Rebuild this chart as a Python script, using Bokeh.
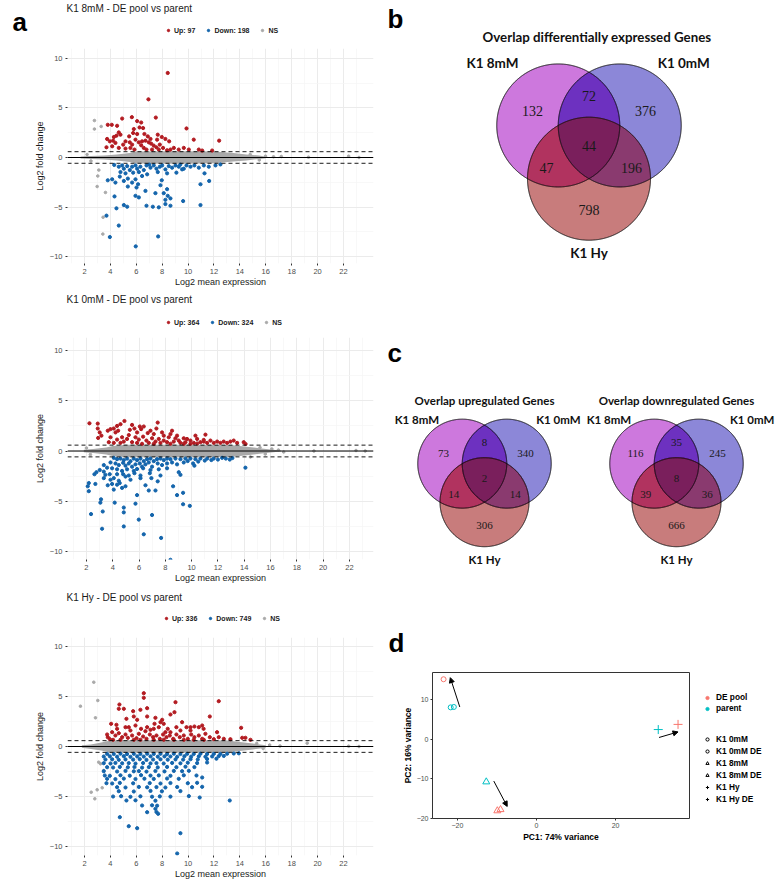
import numpy as np
from bokeh.plotting import figure
from bokeh.models import (Range1d, Label, Legend, LegendItem, Arrow, NormalHead,
                          FixedTicker, ColumnDataSource, Span)
from bokeh.layouts import row, column
from bokeh.embed import file_html
from bokeh.resources import INLINE
from bokeh.core.properties import value

SANS = "Liberation Sans"
SERIF = "Liberation Serif"
VFONT = "Lato"
UP_COLOR, DOWN_COLOR, NS_COLOR = "#B31B21", "#1465AC", "#A9A9A9"

# ---------------- MA plot data (log2 mean expression, log2 fold change) -------------
fc_threshold = 1.5
MA_XTICKS = [2, 4, 6, 8, 10, 12, 14, 16, 18, 20, 22]
MA_XMINOR = [1, 3, 5, 7, 9, 11, 13, 15, 17, 19, 21, 23]
MA_YTICKS = [-10, -5, 0, 5, 10]
MA_YMINOR = [-7.5, -2.5, 2.5, 7.5]

ma1_title = "K1 8mM - DE pool vs parent"
ma1_counts = [97, 198]
ma1_up = [(8.43, 8.53), (6.94, 5.87), (4.91, 3.93), (5.66, 4.07), (6.07, 3.67), (6.38, 3.53), (7.51, 4.03),
          (3.8, 3.3), (4.11, 3.3), (4.52, 3.2), (5.81, 2.87), (6.25, 3.03), (6.53, 2.97), (9.88, 2.93),
          (4.65, 2.53), (4.78, 2.3), (4.47, 2.2), (5.76, 2.47), (6.07, 2.37), (6.89, 2.13), (7.66, 2.3),
          (7.97, 2.07), (8.25, 1.87), (8.54, 1.63), (10.44, 1.8), (12.4, 1.7), (3.75, 1.87), (3.96, 1.63),
          (4.21, 1.7), (4.39, 1.47), (4.99, 1.3), (5.17, 1.63), (5.5, 1.53), (5.68, 1.3), (5.94, 1.8),
          (6.2, 1.53), (6.45, 1.63), (6.71, 1.7), (6.97, 1.53), (7.15, 1.4), (7.35, 1.2), (7.56, 1.03),
          (7.82, 1.3), (8.07, 0.97), (8.64, 0.8), (8.9, 0.97), (9.28, 0.8), (9.67, 0.97), (10.06, 0.8),
          (10.83, 0.8), (11.09, 0.7), (11.86, 0.7), (3.7, 1.03), (4.14, 1.13), (4.65, 0.97), (5.17, 0.9),
          (5.55, 0.97), (5.86, 0.8), (6.58, 0.97), (6.79, 0.8), (7.22, 0.8), (7.74, 0.8), (8.38, 0.73),
          (7.1, 1.87), (6.63, 2.37), (5.45, 2.13), (7.61, 1.8), (4.27, 2.07), (6.38, 1.23)]
ma1_down = [(4.65, -0.93), (4.91, -0.8), (5.04, -1.13), (5.3, -0.87), (5.5, -1.27), (5.68, -0.93), (5.94, -0.8),
            (6.07, -1.13), (6.32, -0.93), (6.58, -1.27), (6.79, -0.8), (7.1, -1.03), (7.35, -0.8), (7.56, -1.13),
            (7.82, -0.93), (8.0, -0.8), (8.25, -1.2), (8.51, -0.87), (8.77, -1.03), (9.03, -0.8), (9.28, -0.93),
            (9.54, -1.2), (9.88, -0.8), (10.19, -0.93), (10.49, -0.8), (10.83, -1.03), (11.22, -0.8), (11.6, -0.93),
            (12.12, -0.8), (4.78, -1.47), (5.17, -1.6), (5.76, -1.53), (6.2, -1.47), (6.84, -1.7), (7.66, -1.47),
            (8.38, -1.6), (9.1, -1.53), (9.67, -1.13), (11.27, -1.6), (4.73, -1.93), (5.35, -2.13), (5.94, -2.2),
            (6.45, -1.87), (5.04, -2.37), (4.14, -2.2), (3.8, -2.3), (4.39, -2.53), (5.68, -2.53), (6.14, -2.7),
            (7.97, -2.3), (7.87, -2.8), (8.38, -3.2), (5.35, -2.93), (6.02, -3.03), (6.71, -3.37), (7.48, -3.6),
            (8.12, -3.6), (8.43, -3.87), (8.64, -4.13), (10.96, -2.7), (11.63, -2.37), (4.32, -3.93), (6.2, -4.03),
            (5.94, -3.87), (8.25, -4.27), (8.25, -4.7), (8.64, -4.87), (9.62, -4.4), (10.96, -4.8), (4.47, -5.13),
            (5.04, -4.8), (5.3, -4.97), (6.79, -4.87), (7.28, -4.97), (7.74, -5.03), (3.7, -5.87), (4.65, -6.87),
            (3.96, -8.03), (7.69, -7.97), (5.96, -8.97), (4.3, -0.75), (12.5, -0.7), (7.0, -0.72), (9.4, -0.72)]
ma1_ns = [(2.77, 3.73), (2.77, 2.87), (3.29, 3.13), (3.11, -1.27), (3.03, -1.87), (2.98, -2.93), (3.62, -3.53),
          (3.44, -6.03), (3.42, -7.73), (15.98, 0.13), (16.6, 0.07), (17.2, 0.1), (19.3, 0.03), (22.4, 0.13),
          (23.2, 0.0), (15.5, -0.25), (14.8, 0.3), (2.2, 0.3), (2.5, -0.35)]
ma1_band_x = [1.7, 2.5, 3.5, 4.5, 5.5, 6.0, 8.0, 10.0, 12.0, 13.5, 14.5, 15.5, 16.0]
ma1_band_hi = [0.1, 0.15, 0.2, 0.3, 0.45, 0.6, 0.62, 0.62, 0.6, 0.45, 0.3, 0.2, 0.08]
ma1_band_lo = [-0.1, -0.15, -0.2, -0.3, -0.45, -0.6, -0.62, -0.62, -0.58, -0.4, -0.3, -0.15, -0.08]

ma2_title = "K1 0mM - DE pool vs parent"
ma2_counts = [364, 324]
ma2_up = [(2.23, 2.76), (2.86, 2.73), (2.86, 2.24), (3.01, 1.85), (3.14, 1.53), (2.89, 1.3), (3.62, 2.02),
          (3.83, 2.18), (4.08, 2.24), (4.21, 1.85), (4.41, 2.02), (4.33, 2.5), (4.89, 2.99), (4.59, 2.67),
          (5.47, 2.6), (5.3, 2.11), (5.65, 2.24), (6.06, 2.44), (6.16, 2.18), (6.36, 2.44), (7.42, 2.83),
          (7.32, 2.24), (6.87, 2.02), (6.66, 1.79), (7.75, 1.85), (8.51, 2.02), (8.39, 1.69), (8.26, 1.37),
          (8.89, 1.53), (9.4, 1.27), (9.65, 1.2), (9.91, 1.04), (10.42, 1.2), (11.05, 1.63), (11.43, 1.04),
          (11.94, 0.94), (12.44, 0.94), (13.2, 1.04), (13.46, 0.81), (4.71, 1.37), (5.09, 1.2), (5.22, 1.59),
          (5.73, 1.37), (5.98, 1.14), (6.31, 1.43), (6.56, 1.04), (6.99, 1.27), (7.25, 0.94), (7.5, 1.2),
          (7.88, 1.04), (8.13, 0.88), (8.64, 0.94), (9.02, 1.04), (9.15, 0.81), (9.53, 0.88), (10.16, 0.81),
          (10.67, 0.88), (10.92, 0.94), (11.18, 0.81), (11.68, 0.81), (12.19, 0.81), (12.7, 0.81), (12.95, 0.94),
          (3.83, 1.37), (4.33, 1.14), (4.84, 0.94), (5.47, 0.88), (5.85, 0.81), (6.74, 0.81), (7.63, 0.81),
          (8.39, 0.72), (9.4, 0.72), (9.91, 0.72), (10.42, 0.75), (3.7, 0.88), (4.08, 0.81), (4.59, 0.81),
          (7.12, 1.69), (7.88, 1.53), (8.77, 1.27), (5.85, 1.85), (10.29, 1.53), (10.92, 1.1), (7.12, 0.72),
          (6.23, 0.72), (13.96, 0.88), (14.1, 0.7)]
ma2_down = [(4.08, -0.68), (4.33, -0.81), (4.59, -0.75), (4.84, -0.91), (5.09, -0.75), (5.35, -1.01), (5.6, -0.75),
            (5.85, -0.91), (6.11, -0.75), (6.36, -1.01), (6.61, -0.81), (6.87, -0.75), (7.12, -1.01), (7.37, -0.81),
            (7.63, -0.75), (7.88, -0.91), (8.13, -0.75), (8.39, -0.81), (8.77, -0.75), (9.15, -0.81), (9.53, -0.75),
            (9.91, -0.75), (10.29, -0.81), (10.67, -0.75), (11.18, -0.75), (11.68, -0.75), (12.32, -0.68),
            (3.83, -1.14), (4.21, -1.24), (4.46, -1.4), (4.79, -1.17), (4.97, -1.46), (5.22, -1.24), (5.47, -1.56),
            (5.73, -1.33), (6.06, -1.24), (6.23, -1.56), (6.49, -1.33), (6.74, -1.14), (6.99, -1.56), (7.42, -1.24),
            (7.75, -1.4), (8.13, -1.24), (8.51, -1.14), (8.89, -1.33), (9.4, -1.14), (10.11, -1.24), (10.21, -1.46),
            (3.32, -1.4), (3.57, -1.66), (3.95, -1.72), (4.33, -1.82), (4.71, -1.98), (5.09, -1.82), (5.6, -1.98),
            (5.85, -1.79), (6.31, -1.72), (6.87, -1.89), (7.5, -1.82), (8.13, -1.72), (9.02, -2.11), (9.15, -2.37),
            (3.32, -2.05), (3.01, -1.89), (3.44, -2.37), (3.77, -2.31), (4.33, -2.31), (4.79, -2.31), (5.22, -2.44),
            (5.65, -2.21), (6.11, -2.44), (6.82, -2.21), (7.63, -2.44), (2.61, -2.31), (2.76, -2.11), (3.32, -2.7),
            (3.83, -2.86), (4.08, -2.7), (4.46, -2.96), (4.97, -2.54), (5.35, -2.86), (6.11, -2.7), (6.94, -2.7),
            (7.42, -3.02), (8.59, -3.51), (9.35, -4.16), (8.89, -4.39), (3.62, -3.41), (3.95, -3.28), (4.33, -3.35),
            (4.53, -3.19), (4.97, -3.51), (4.08, -3.84), (4.71, -3.67), (6.49, -3.41), (6.74, -3.93), (7.25, -3.93),
            (5.85, -4.39), (2.18, -3.19), (2.1, -3.51), (2.18, -4.0), (2.68, -3.28), (3.11, -4.81), (3.06, -5.14),
            (4.15, -5.14), (5.73, -5.24), (9.35, -5.3), (9.86, -5.46), (2.35, -6.28), (3.24, -6.02), (4.84, -5.63),
            (4.84, -6.11), (6.99, -6.37), (5.98, -6.83), (3.19, -7.74), (4.84, -7.51), (6.36, -8.29), (7.68, -8.65),
            (8.39, -10.83), (14.09, -1.66), (9.7, -1.0), (10.5, -1.05), (11.0, -0.95), (11.5, -0.9), (12.0, -0.85),
            (12.6, -0.75), (13.1, -0.7), (12.9, -0.85)]
ma2_ns = [(14.47, -0.59), (15.2, 0.35), (15.6, -0.3), (16.1, 0.2), (16.6, 0.1), (17.0, -0.1), (19.3, 0.0),
          (22.5, 0.05), (23.2, 0.0), (2.0, 0.3), (2.3, -0.35)]
ma2_band_x = [1.8, 2.5, 3.5, 4.0, 5.0, 8.0, 11.0, 13.0, 14.0, 15.0, 16.0, 16.8]
ma2_band_hi = [0.12, 0.2, 0.35, 0.5, 0.62, 0.62, 0.62, 0.6, 0.45, 0.3, 0.15, 0.05]
ma2_band_lo = [-0.12, -0.2, -0.35, -0.5, -0.62, -0.62, -0.62, -0.6, -0.45, -0.3, -0.15, -0.05]

ma3_title = "K1 Hy - DE pool vs parent"
ma3_counts = [336, 749]
ma3_up = [(6.58, 5.33), (6.58, 4.87), (9.03, 4.43), (12.37, 4.53), (4.7, 4.2), (4.65, 3.77), (5.04, 3.77),
          (5.76, 3.53), (6.32, 3.67), (6.84, 3.83), (5.81, 3.0), (6.07, 2.67), (6.84, 3.0), (7.48, 2.87),
          (7.87, 2.43), (8.0, 2.67), (8.64, 3.2), (8.95, 3.43), (11.68, 3.0), (4.06, 2.27), (4.47, 2.17),
          (5.24, 2.77), (5.42, 1.93), (5.55, 1.6), (5.94, 2.1), (6.37, 1.77), (6.84, 1.93), (7.1, 1.67),
          (7.41, 2.27), (7.74, 1.93), (8.12, 2.27), (8.43, 1.77), (8.64, 1.43), (9.1, 1.93), (9.54, 2.43),
          (9.88, 1.93), (10.19, 1.6), (10.49, 2.0), (10.83, 1.93), (11.09, 2.1), (11.2, 1.77), (14.1, 1.87),
          (14.18, 0.87), (14.43, 0.87), (14.82, 0.67), (3.75, 1.2), (3.8, 0.93), (3.96, 0.73), (4.14, 1.43),
          (4.39, 1.1), (4.65, 1.33), (4.91, 0.93), (5.17, 1.2), (5.35, 0.87), (5.68, 1.1), (6.02, 0.83),
          (6.2, 1.27), (6.53, 1.0), (6.79, 0.77), (7.05, 1.2), (7.3, 0.93), (7.56, 1.1), (7.82, 0.77),
          (8.07, 1.2), (8.33, 0.93), (8.59, 1.1), (8.85, 0.77), (9.1, 1.2), (9.36, 0.93), (9.67, 1.1),
          (9.98, 0.77), (10.24, 1.2), (10.49, 0.93), (10.83, 1.1), (11.09, 0.77), (11.34, 1.27), (11.68, 0.93),
          (11.99, 0.73), (12.37, 0.93), (12.76, 0.77), (13.27, 0.73), (5.81, 0.67), (7.35, 0.67), (8.9, 0.67),
          (10.44, 0.67), (4.78, 0.67), (4.21, 0.67), (6.32, 0.67), (8.12, 0.67), (9.67, 0.67), (11.22, 0.67),
          (4.52, 1.77), (5.17, 1.93), (7.35, 1.77), (6.71, 1.53), (8.25, 1.43), (9.41, 1.6), (10.19, 1.93),
          (12.24, 1.43)]
ma3_down = [(3.75, -0.73), (4.26, -0.75), (4.78, -0.72), (5.29, -0.76), (5.81, -0.73), (6.32, -0.75), (6.84, -0.72),
            (7.35, -0.74), (7.87, -0.73), (8.38, -0.76), (8.9, -0.72), (9.41, -0.75), (9.93, -0.73), (10.44, -0.74),
            (10.96, -0.72), (11.47, -0.75), (11.99, -0.73), (12.5, -0.74), (13.02, -0.72), (13.53, -0.7),
            (13.92, -0.68), (3.49, -1.0), (3.96, -0.98), (4.52, -1.02), (5.04, -0.97), (5.55, -1.03), (6.07, -0.99),
            (6.58, -1.01), (7.1, -0.98), (7.66, -1.02), (8.18, -0.99), (8.64, -1.0), (9.16, -1.03), (9.72, -0.97),
            (10.24, -1.01), (10.83, -0.98), (11.34, -1.02), (11.86, -0.99), (12.37, -0.96), (12.76, -0.94),
            (3.62, -1.3), (4.14, -1.28), (4.65, -1.33), (5.17, -1.29), (5.76, -1.31), (6.27, -1.27), (6.79, -1.34),
            (7.3, -1.3), (7.87, -1.28), (8.43, -1.32), (9.03, -1.29), (9.62, -1.31), (10.19, -1.27), (10.75, -1.3),
            (11.47, -1.25), (12.19, -1.22), (3.49, -1.67), (4.01, -1.7), (4.39, -1.64), (4.91, -1.68), (5.42, -1.66),
            (5.94, -1.71), (6.53, -1.65), (7.1, -1.69), (7.56, -1.66), (8.12, -1.7), (8.77, -1.64), (9.41, -1.68),
            (9.98, -1.62), (10.7, -1.66), (11.47, -1.6), (3.75, -2.07), (4.21, -2.1), (4.73, -2.04), (5.35, -2.08),
            (5.86, -2.05), (6.45, -2.11), (6.97, -2.06), (7.66, -2.09), (8.38, -2.04), (9.1, -2.07), (9.8, -2.02),
            (10.49, -2.06), (3.49, -2.47), (4.52, -2.5), (5.17, -2.44), (5.81, -2.48), (6.2, -2.46), (6.79, -2.51),
            (7.48, -2.45), (8.18, -2.49), (8.9, -2.44), (9.54, -2.47), (10.06, -2.43), (3.57, -2.9), (3.96, -2.93),
            (4.78, -2.88), (5.5, -2.92), (6.37, -2.87), (7.1, -2.91), (7.74, -2.89), (8.64, -2.93), (9.67, -2.88),
            (10.65, -2.9), (3.75, -3.23), (4.39, -3.26), (5.04, -3.21), (5.94, -3.25), (6.63, -3.22), (7.35, -3.24),
            (8.38, -3.2), (9.28, -3.23), (11.09, -3.1), (3.7, -3.67), (4.14, -3.7), (4.73, -3.64), (5.76, -3.68),
            (7.04, -3.66), (7.87, -3.7), (8.64, -3.65), (9.98, -3.67), (10.7, -3.63), (4.52, -4.07), (5.17, -4.1),
            (6.2, -4.04), (6.84, -4.08), (7.56, -4.06), (8.25, -4.1), (9.16, -4.05), (10.31, -4.07), (11.09, -4.03),
            (4.65, -4.47), (5.81, -4.5), (7.1, -4.44), (7.98, -4.48), (9.41, -4.46), (4.21, -5.0), (4.83, -4.97),
            (5.55, -5.03), (6.32, -4.98), (7.22, -5.02), (7.82, -4.99), (8.64, -5.01), (10.06, -4.96), (10.9, -5.1),
            (5.24, -5.4), (5.94, -5.38), (7.48, -5.42), (13.22, -5.4), (6.45, -5.9), (7.22, -5.88), (7.61, -5.92),
            (6.84, -6.57), (7.56, -6.55), (7.48, -6.23), (7.69, -6.73), (4.73, -7.07), (5.42, -7.97), (6.07, -8.17),
            (9.41, -8.67), (9.16, -10.7)]
ma3_ns = [(2.72, 6.43), (1.69, 4.03), (3.03, 4.6), (2.85, 2.87), (2.52, -4.57), (2.8, -5.23), (2.98, -4.33),
          (3.37, -4.13), (3.1, -1.57), (3.24, -1.73), (3.49, -2.4), (15.3, 0.3), (15.8, -0.2), (16.3, 0.15),
          (17.1, 0.05), (19.2, 0.33), (22.4, 0.03), (23.2, 0.0)]
ma3_band_x = [1.8, 2.5, 3.3, 4.0, 5.0, 8.0, 11.0, 13.0, 14.0, 15.0, 16.0]
ma3_band_hi = [0.12, 0.2, 0.4, 0.6, 0.62, 0.62, 0.62, 0.6, 0.45, 0.3, 0.12]
ma3_band_lo = [-0.12, -0.25, -0.4, -0.6, -0.62, -0.62, -0.62, -0.6, -0.45, -0.3, -0.12]

# ---------------- Venn data ----------------
venn_sets = ["K1 8mM", "K1 0mM", "K1 Hy"]
# region order: 8mM only, 8mM&0mM, 0mM only, 8mM&Hy, all three, 0mM&Hy, Hy only
venn_all = [132, 72, 376, 47, 44, 196, 798]
venn_up = [73, 8, 340, 14, 2, 14, 306]
venn_down = [116, 35, 245, 39, 8, 36, 666]

# ---------------- PCA data ----------------
pca_pc1 = [-21.7, -20.9, -23.5, -12.7, -9.9, -9.1, 30.8, 35.8]
pca_pc2 = [8.0, 8.1, 15.1, -10.8, -18.1, -17.8, 2.4, 3.7]
pca_group = ["parent", "parent", "DE pool", "parent", "DE pool", "DE pool", "parent", "DE pool"]
pca_shape = ["K1 0mM", "K1 0mM", "K1 0mM", "K1 8mM", "K1 8mM", "K1 8mM", "K1 Hy", "K1 Hy"]
arrow_x0 = [-19.4, -10.8, 31.0]
arrow_y0 = [8.1, -10.6, 0.4]
arrow_x1 = [-21.8, -7.4, 35.8]
arrow_y1 = [15.5, -17.0, 1.8]
pca_groups = ["DE pool", "parent"]
pca_shape_labels = ["K1 0mM", "K1 0mM DE", "K1 8mM", "K1 8mM DE", "K1 Hy", "K1 Hy DE"]

GROUP_COLOR = {"DE pool": "#F8766D", "parent": "#00BFC4"}
SHAPE_MARKER = {"K1 0mM": "circle", "K1 8mM": "triangle", "K1 Hy": "cross"}
SHAPE_SIZE = {"K1 0mM": 5, "K1 8mM": 7, "K1 Hy": 9}
LEGEND_SHAPE_SIZE = {"K1 0mM": 6, "K1 8mM": 8, "K1 Hy": 9}

LEFT_W, RIGHT_W = 382, 397          # column widths (total 779)
OFF = [-1.0e4]                     # legend-only renderers sit far outside every range
LETTER_PX = 26                     # panel letters; text is centred 0.35 em above its baseline


def mkfig(**kw):
    p = figure(output_backend="svg", toolbar_location=None, title=None, **kw)
    try:
        p.frame_align = False
    except Exception:
        pass
    return p


def blank(W, H, x0, y0):
    """Figure whose data space equals the page layout space (y downwards)."""
    p = mkfig(width=W, height=H, x_range=Range1d(x0, x0 + W), y_range=Range1d(y0 + H, y0),
              min_border=0, x_axis_type=None, y_axis_type=None)
    p.outline_line_color = None
    return p


def letter_label(x, baseline, t):
    return Label(x=x, y=baseline - 0.35 * LETTER_PX, text=t, text_font=SANS,
                 text_font_size="%dpx" % LETTER_PX, text_font_style="bold",
                 text_color="black", text_baseline="middle")


def ma_header(H, y0, title, counts, title_y, legend_dot_x, legend_y, letter=None):
    h = blank(LEFT_W, H, 0, y0)
    h.add_layout(Label(x=66, y=title_y, text=title, text_font=SANS, text_font_size="10px",
                       text_color="#1A1A1A", text_baseline="middle", text_align="left"))
    if letter is not None:
        h.add_layout(letter_label(letter[0], letter[1], "a"))
    r_up = h.scatter(x=OFF, y=OFF, size=3.4, color=UP_COLOR)
    r_dn = h.scatter(x=OFF, y=OFF, size=3.4, color=DOWN_COLOR)
    r_ns = h.scatter(x=OFF, y=OFF, size=2.8, color=NS_COLOR)
    lh = 10
    legend = Legend(items=[LegendItem(label="Up: %d" % counts[0], renderers=[r_up]),
                           LegendItem(label="Down: %d" % counts[1], renderers=[r_dn]),
                           LegendItem(label="NS", renderers=[r_ns])],
                    orientation="horizontal",
                    location=(legend_dot_x - 3, (y0 + H) - (legend_y + lh / 2)),
                    glyph_width=6, glyph_height=lh, label_height=lh, label_standoff=3, spacing=10,
                    padding=0, margin=0, border_line_color=None, background_fill_alpha=0,
                    label_text_font=SANS, label_text_font_size="7px", label_text_font_style="bold",
                    label_text_color="#1A1A1A")
    h.add_layout(legend)
    return h


def ma_plot(H, y0, frame_top, frame_bottom, xr, yr, up, down, ns, band):
    fl, fr = 67, 373
    p = mkfig(width=LEFT_W, height=H, x_range=Range1d(*xr), y_range=Range1d(*yr),
              min_border_left=fl, min_border_right=LEFT_W - fr,
              min_border_top=frame_top - y0, min_border_bottom=(y0 + H) - frame_bottom)
    p.outline_line_color = None
    p.xaxis.ticker = FixedTicker(ticks=MA_XTICKS, minor_ticks=MA_XMINOR)
    p.yaxis.ticker = FixedTicker(ticks=MA_YTICKS, minor_ticks=MA_YMINOR)
    for g in (p.xgrid, p.ygrid):
        g.grid_line_color = "#EBEBEB"
        g.grid_line_width = 1
        g.minor_grid_line_color = "#F5F5F5"
        g.minor_grid_line_width = 0.7
    for ax in (p.xaxis, p.yaxis):
        ax.axis_line_color = None
        ax.major_tick_line_color = "#333333"
        ax.major_tick_out = 2
        ax.major_tick_in = 0
        ax.minor_tick_line_color = None
        ax.major_label_text_font = SANS
        ax.major_label_text_font_size = "7.5px"
        ax.major_label_text_color = "#4D4D4D"
        ax.major_label_standoff = 1
        ax.axis_label_text_font = SANS
        ax.axis_label_text_font_size = "9px"
        ax.axis_label_text_font_style = "normal"
        ax.axis_label_text_color = "#1A1A1A"
    p.xaxis.axis_label = "Log2 mean expression"
    p.yaxis.axis_label = "Log2 fold change"
    p.xaxis.axis_label_standoff = 0
    p.yaxis.axis_label_standoff = 2

    bx, bhi, blo = band
    p.varea(x=bx, y1=blo, y2=bhi, fill_color=NS_COLOR)
    p.scatter([q[0] for q in ns], [q[1] for q in ns], size=2.6, color=NS_COLOR)
    p.scatter([q[0] for q in up], [q[1] for q in up], size=3.2, color=UP_COLOR)
    p.scatter([q[0] for q in down], [q[1] for q in down], size=3.2, color=DOWN_COLOR)
    thr = np.log2(fc_threshold)
    p.add_layout(Span(location=0, dimension="width", line_color="black", line_width=1.2))
    for loc in (thr, -thr):
        p.add_layout(Span(location=loc, dimension="width", line_color="black",
                          line_width=0.9, line_dash="4 3"))
    return p


h1 = ma_header(44, 0, ma1_title, ma1_counts, 8, 168, 30, letter=(12, 31))
p1 = ma_plot(245, 44, 48, 265, (0.69, 24.32), (-10.7, 11.0), ma1_up, ma1_down, ma1_ns,
             (ma1_band_x, ma1_band_hi, ma1_band_lo))
h2 = ma_header(45, 289, ma2_title, ma2_counts, 299, 168, 322)
p2 = ma_plot(251, 334, 337, 564, (0.56, 23.83), (-10.8, 11.3), ma2_up, ma2_down, ma2_ns,
             (ma2_band_x, ma2_band_hi, ma2_band_lo))
h3 = ma_header(43, 585, ma3_title, ma3_counts, 597, 166, 618)
p3 = ma_plot(261, 628, 637, 855, (0.69, 24.32), (-10.9, 10.9), ma3_up, ma3_down, ma3_ns,
             (ma3_band_x, ma3_band_hi, ma3_band_lo))

# ---------------- Venn diagrams ----------------
UNIT_CENTERS = [(-0.5, 0.2887), (0.5, 0.2887), (0.0, -0.5774)]
SET_COLORS = ["#CD78DD", "#8C87D8", "#C87C7C"]
OVERLAPS = [((0, 1), "#6D31C0"), ((0, 2), "#B1335F"), ((1, 2), "#8A3A6F"), ((0, 1, 2), "#7A1F5C")]
REGION_POS = [(-0.92, 0.52), (0.0, 0.77), (0.92, 0.52), (-0.69, -0.41), (0.0, -0.04), (0.69, -0.41), (0.0, -1.09)]


def region_poly(C, r, idx):
    t = np.linspace(0, 2 * np.pi, 1441)
    pts = []
    for i in idx:
        bx = C[i][0] + r * np.cos(t)
        by = C[i][1] + r * np.sin(t)
        mask = np.ones_like(t, dtype=bool)
        for j in idx:
            if j != i:
                mask &= (bx - C[j][0]) ** 2 + (by - C[j][1]) ** 2 <= r * r * 1.0005
        pts.append(np.column_stack([bx[mask], by[mask]]))
    P = np.vstack(pts)
    m = P.mean(axis=0)
    order = np.argsort(np.arctan2(P[:, 1] - m[1], P[:, 0] - m[0]))
    return list(P[order, 0]), list(P[order, 1])


def venn3(p, cx, cy, r, counts, title, num_size, name_size, title_size, name_dx, name_dy, c_dy,
          title_dy, title_dx=0.0):
    C = [(cx + r * ux, cy - r * uy) for ux, uy in UNIT_CENTERS]
    for i in range(3):
        xs, ys = region_poly(C, r, (i,))
        p.patch(xs, ys, fill_color=SET_COLORS[i], line_color=None)
    for idx, col in OVERLAPS:
        xs, ys = region_poly(C, r, idx)
        p.patch(xs, ys, fill_color=col, line_color=col, line_width=0.3)
    for i in range(3):
        xs, ys = region_poly(C, r, (i,))
        p.patch(xs, ys, fill_color=None, line_color="#111111", line_width=1)
    p.text(x=[cx + r * ux for ux, uy in REGION_POS], y=[cy - r * uy for ux, uy in REGION_POS],
           text=[str(v) for v in counts], text_font=value(SERIF), text_font_size=value(num_size),
           text_color="#1A1A1A", text_align="center", text_baseline="middle")
    p.text(x=[cx + name_dx[0] * r, cx + name_dx[1] * r, cx],
           y=[cy - name_dy * r, cy - name_dy * r, cy - c_dy * r],
           text=venn_sets, text_font=value(VFONT), text_font_size=value(name_size),
           text_font_style="bold", text_color="#111111", text_align="center", text_baseline="middle")
    p.text(x=[cx + title_dx], y=[cy - title_dy * r], text=[title], text_font=value(VFONT),
           text_font_size=value(title_size), text_font_style="bold", text_color="#111111",
           text_align="center", text_baseline="middle")


vb = blank(RIGHT_W, 305, 382, 0)
venn3(vb, 588.5, 142.7, 61.5, venn_all, "Overlap differentially expressed Genes",
      "14px", "13.5px", "13.3px", (-1.57, 1.54), 1.31, -1.79, 1.72, title_dx=8)
vb.add_layout(letter_label(387, 28, "b"))

vc = blank(RIGHT_W, 295, 382, 305)
venn3(vc, 484, 476, 44.5, venn_up, "Overlap upregulated Genes",
      "11px", "11.5px", "11.5px", (-1.52, 1.66), 1.28, -1.87, 1.71)
venn3(vc, 676, 476, 44.5, venn_down, "Overlap downregulated Genes",
      "11px", "11.5px", "11.5px", (-1.52, 1.70), 1.28, -1.87, 1.71)
vc.add_layout(letter_label(387, 362, "c"))

# ---------------- PCA ----------------
dh = blank(RIGHT_W, 65, 382, 600)
dh.add_layout(letter_label(388, 652, "d"))

PCA_Y0, PCA_H = 665, 224
pp = mkfig(width=308, height=PCA_H, x_range=Range1d(-26.3, 38.7), y_range=Range1d(-20.05, 16.8),
           min_border_left=50, min_border_right=1, min_border_top=672 - PCA_Y0,
           min_border_bottom=PCA_Y0 + PCA_H - 818)
pp.grid.visible = False
pp.outline_line_color = "#333333"
pp.outline_line_width = 1
pp.xaxis.ticker = FixedTicker(ticks=[-20, 0, 20])
pp.yaxis.ticker = FixedTicker(ticks=[-20, -10, 0, 10])
for ax in (pp.xaxis, pp.yaxis):
    ax.axis_line_color = None
    ax.major_tick_line_color = "#333333"
    ax.major_tick_out = 2
    ax.major_tick_in = 0
    ax.minor_tick_line_color = None
    ax.major_label_text_font = SANS
    ax.major_label_text_font_size = "7px"
    ax.major_label_text_color = "#4D4D4D"
    ax.major_label_standoff = 2
    ax.axis_label_text_font = SANS
    ax.axis_label_text_font_size = "8.5px"
    ax.axis_label_text_font_style = "bold"
    ax.axis_label_text_color = "black"
    ax.axis_label_standoff = 1
pp.xaxis.axis_label = "PC1: 74% variance"
pp.yaxis.axis_label = "PC2: 16% variance"

psrc = ColumnDataSource(dict(x=pca_pc1, y=pca_pc2,
                             marker=[SHAPE_MARKER[s] for s in pca_shape],
                             size=[SHAPE_SIZE[s] for s in pca_shape],
                             color=[GROUP_COLOR[g] for g in pca_group]))
pp.scatter("x", "y", marker="marker", size="size", line_color="color", fill_color=None,
           line_width=1, source=psrc)
pp.add_layout(Arrow(end=NormalHead(size=5, fill_color="black", line_color="black", line_width=1),
                    source=ColumnDataSource(dict(x0=arrow_x0, y0=arrow_y0, x1=arrow_x1, y1=arrow_y1)),
                    x_start="x0", y_start="y0", x_end="x1", y_end="y1",
                    line_color="black", line_width=1))

LG_X0 = 690
lg = blank(382 + RIGHT_W - LG_X0, PCA_H, LG_X0, PCA_Y0)
col_items = []
for g in pca_groups:
    rr = lg.scatter(x=OFF, y=OFF, marker="circle", size=5.5, fill_color=GROUP_COLOR[g],
                    line_color=GROUP_COLOR[g])
    col_items.append(LegendItem(label=g, renderers=[rr]))
shape_items = []
for lab in pca_shape_labels:
    base = lab.replace(" DE", "")
    rr = lg.scatter(x=OFF, y=OFF, marker=SHAPE_MARKER[base], size=LEGEND_SHAPE_SIZE[base],
                    fill_color=None, line_color="black", line_width=1)
    shape_items.append(LegendItem(label=lab, renderers=[rr]))


def pca_legend(items, lh, first_center):
    bottom = first_center - lh / 2 + lh * len(items)
    return Legend(items=items, location=(703 - LG_X0, PCA_Y0 + PCA_H - bottom), orientation="vertical",
                  glyph_width=8, glyph_height=lh, label_height=lh, label_standoff=5, spacing=0,
                  padding=0, margin=0, border_line_color=None, background_fill_alpha=0,
                  label_text_font=SANS, label_text_font_size="8.3px", label_text_font_style="bold",
                  label_text_color="black")


lg.add_layout(pca_legend(col_items, 11, 697))
lg.add_layout(pca_legend(shape_items, 12, 739))

layout = row(column(h1, p1, h2, p2, h3, p3), column(vb, vc, dh, row(pp, lg)))
open("out.html", "w").write(file_html(layout, INLINE, title="DE figure"))
